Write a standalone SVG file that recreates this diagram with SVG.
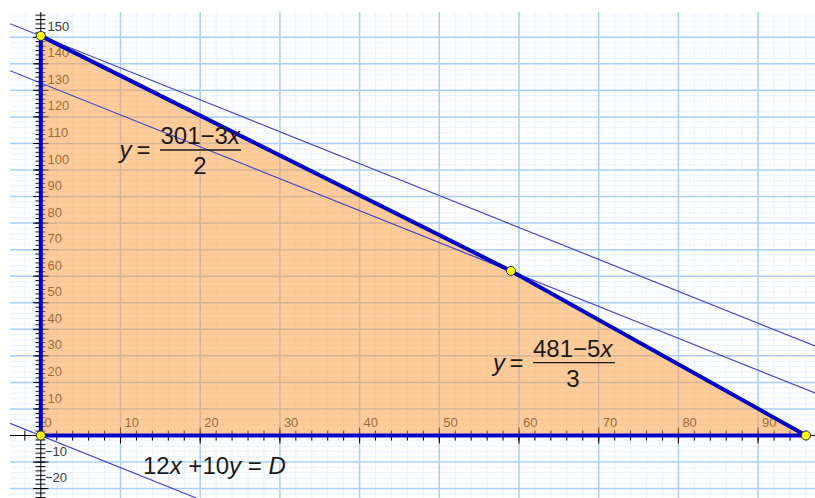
<svg xmlns="http://www.w3.org/2000/svg" width="815" height="498" viewBox="0 0 815 498">
<style>
.major{stroke:#aacfff;stroke-width:1.5;fill:none}
.tick{stroke:#000;stroke-width:1;fill:none}
.ax{stroke:#000;stroke-width:1;fill:none}
.lbl{font-family:"Liberation Sans",Arial,sans-serif;font-size:13px;fill:#3a3a3a}
.thin{stroke:#4444cc;stroke-width:1.2;fill:none}
.thick{stroke:#0000c8;stroke-width:4;fill:none;stroke-linejoin:round}
.dot{fill:#ffff00;stroke:#333;stroke-width:1}
.eq{font-family:"Liberation Sans",Arial,sans-serif;font-size:24px;fill:#1a1a1a}
.it{font-style:italic}
.bar{stroke:#1a1a1a;stroke-width:1.3}
</style>
<defs>
<clipPath id="view"><rect x="10" y="12" width="805" height="486"/></clipPath>
<pattern id="minorgrid" patternUnits="userSpaceOnUse" x="40.3" y="435" width="15.94" height="5.31">
<path d="M0.5 0V5.31M0 0.5H15.94" stroke="#ecf2ff" stroke-width="1"/>
</pattern>
<pattern id="xticks" patternUnits="userSpaceOnUse" x="40.3" y="430.5" width="15.94" height="10">
<path d="M0.5 0V10" stroke="#000" stroke-width="1"/>
</pattern>
<pattern id="yticks" patternUnits="userSpaceOnUse" x="35.5" y="435" width="10" height="4.425">
<path d="M0 0.5H10" stroke="#000" stroke-width="1"/>
</pattern>
</defs>
<rect width="815" height="498" fill="#fff"/>
<g id="plot" clip-path="url(#view)">
<g id="grid">
<rect x="10" y="12" width="805" height="486" fill="url(#minorgrid)"/>
<path class="major" d="M120.5 12V498M200.2 12V498M279.9 12V498M359.6 12V498M439.3 12V498M519 12V498M598.7 12V498M678.4 12V498M758.1 12V498"/>
<path class="major" d="M10 488.6H815M10 462.05H815M10 408.95H815M10 382.4H815M10 355.85H815M10 329.3H815M10 302.75H815M10 276.2H815M10 249.65H815M10 223.1H815M10 196.55H815M10 170H815M10 143.45H815M10 116.9H815M10 90.35H815M10 63.8H815M10 37.25H815"/>
</g>
<g id="axes">
<path class="ax" d="M10 435.5H815M40.8 12V498"/>
<rect x="10" y="430.5" width="805" height="10" fill="url(#xticks)"/>
<rect x="35.5" y="12" width="10" height="486" fill="url(#yticks)"/>
<path class="tick" d="M120.5 427.5V443.5M200.2 427.5V443.5M279.9 427.5V443.5M359.6 427.5V443.5M439.3 427.5V443.5M519 427.5V443.5M598.7 427.5V443.5M678.4 427.5V443.5M758.1 427.5V443.5"/>
<path class="tick" d="M33 488.6H48.5M33 462.05H48.5M33 408.95H48.5M33 382.4H48.5M33 355.85H48.5M33 329.3H48.5M33 302.75H48.5M33 276.2H48.5M33 249.65H48.5M33 223.1H48.5M33 196.55H48.5M33 170H48.5M33 143.45H48.5M33 116.9H48.5M33 90.35H48.5M33 63.8H48.5M33 37.25H48.5"/>
<g class="lbl">
<text x="44.5" y="427">0</text>
<text x="124.5" y="427">10</text>
<text x="204.2" y="427">20</text>
<text x="283.9" y="427">30</text>
<text x="363.6" y="427">40</text>
<text x="443.3" y="427">50</text>
<text x="523" y="427">60</text>
<text x="602.7" y="427">70</text>
<text x="682.4" y="427">80</text>
<text x="762.1" y="427">90</text>
<text x="47.5" y="402.5">10</text>
<text x="47.5" y="376">20</text>
<text x="47.5" y="349.4">30</text>
<text x="47.5" y="322.8">40</text>
<text x="47.5" y="296.3">50</text>
<text x="47.5" y="269.7">60</text>
<text x="47.5" y="243.2">70</text>
<text x="47.5" y="216.6">80</text>
<text x="47.5" y="190.1">90</text>
<text x="47.5" y="163.5">100</text>
<text x="47.5" y="137">110</text>
<text x="47.5" y="110.4">120</text>
<text x="47.5" y="83.9">130</text>
<text x="47.5" y="57.3">140</text>
<text x="47.5" y="30.8">150</text>
<text x="45" y="456">−10</text>
<text x="45" y="482.1">−20</text>
</g>
</g>
<g id="feasible-region">
<polygon points="40.8,435.5 40.8,35.9 511,270.9 806,435.5" fill="#ff9933" fill-opacity="0.5"/>
</g>
<g id="connectors">
<line class="thin" x1="10" y1="23.7" x2="815" y2="346"/>
<line class="thin" x1="10" y1="70.7" x2="815" y2="393"/>
<line class="thin" x1="10" y1="423.4" x2="196.3" y2="498"/>
<path class="thick" d="M40.8 435.5V35.9L511 270.9L806 435.5Z"/>
</g>
<g id="vertices">
<circle class="dot" cx="40.8" cy="35.9" r="4.5"/>
<circle class="dot" cx="511" cy="270.9" r="4.5"/>
<circle class="dot" cx="806" cy="435.5" r="4.5"/>
<circle class="dot" cx="40.8" cy="435.5" r="4.5"/>
</g>
</g>
<g id="label-constraint-1" class="eq">
<text x="119.5" y="158.3" class="it">y</text>
<text x="136.5" y="158.3">=</text>
<text x="160.5" y="144.3">301−3<tspan class="it">x</tspan></text>
<line class="bar" x1="160" y1="150" x2="241" y2="150"/>
<text x="200" y="174" text-anchor="middle">2</text>
</g>
<g id="label-constraint-2" class="eq">
<text x="493" y="371" class="it">y</text>
<text x="509.5" y="371">=</text>
<text x="533" y="357">481−5<tspan class="it">x</tspan></text>
<line class="bar" x1="533" y1="362.7" x2="615" y2="362.7"/>
<text x="573" y="387" text-anchor="middle">3</text>
</g>
<g id="label-objective" class="eq">
<text x="143" y="474">12<tspan class="it">x</tspan> +10<tspan class="it">y</tspan> = <tspan class="it">D</tspan></text>
</g>
</svg>
